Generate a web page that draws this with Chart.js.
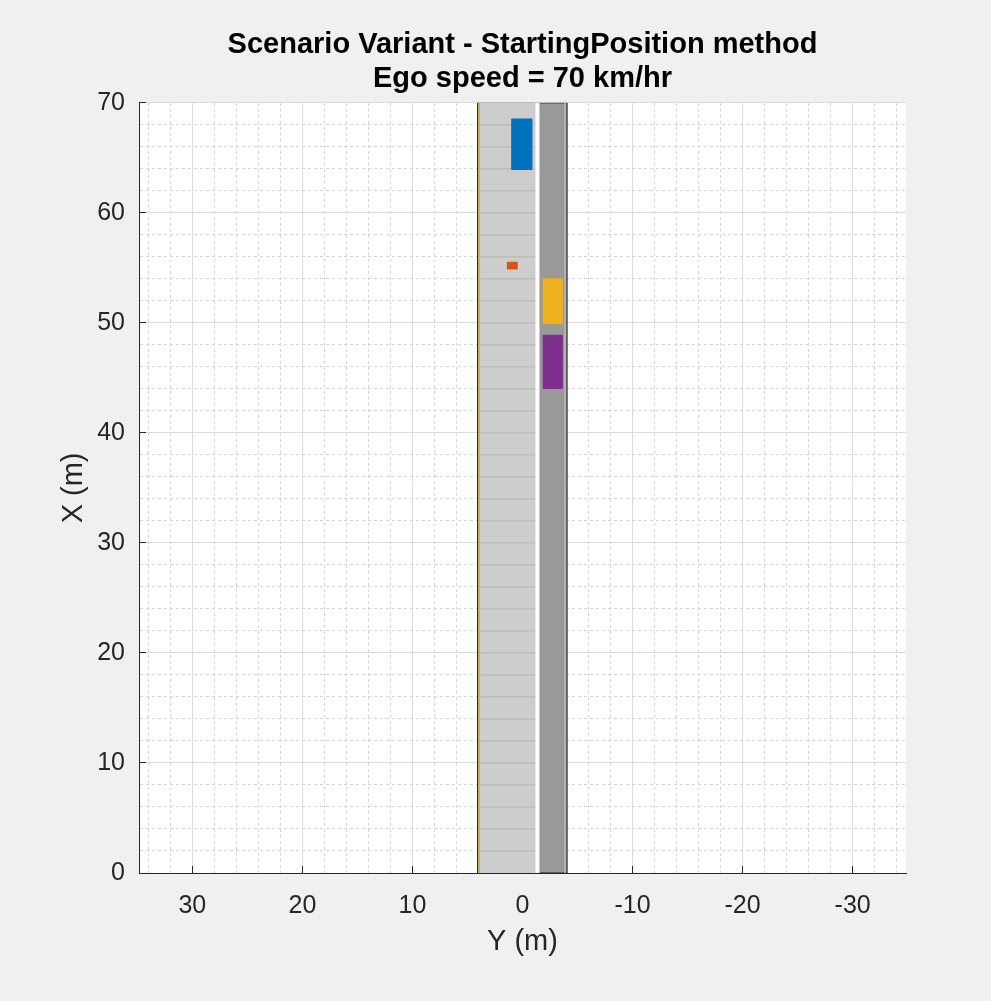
<!DOCTYPE html>
<html>
<head>
<meta charset="utf-8">
<script src="https://cdn.jsdelivr.net/npm/chart.js@4.4.1/dist/chart.umd.min.js"></script>
<style>
  html, body { margin: 0; padding: 0; background: #f0f0f0; }
  canvas { display: block; }
</style>
</head>
<body>
<canvas id="scenario" width="991" height="1001"></canvas>
<script>
// Axis limits and tick labels (metres)
const yLimits = [-34.85, 34.85];   // horizontal axis, "Y (m)", reversed
const xLimits = [0, 70];           // vertical axis, "X (m)"
const yTickLabels = [30, 20, 10, 0, -10, -20, -30];
const xTickLabels = [0, 10, 20, 30, 40, 50, 60, 70];
const minorStep = 2;

// Road geometry (lateral Y positions and longitudinal extent)
const roadEdgeY = [4.05, -4.05];
const roadX = [0, 70];
const lightLaneY = [3.95, -1.36];
const yellowLineY = 3.95;
const whiteLineY = -1.36;
const edgeLineY = -3.86;
const stripeX = [2, 4, 6, 8, 10, 12, 14, 16, 18, 20, 22, 24, 26, 28, 30, 32, 34,
                 36, 38, 40, 42, 44, 46, 48, 50, 52, 54, 56, 58, 60, 62, 64, 66, 68];

// Actors: lateral span (left/right Y) and longitudinal span (rear/front X)
const actorLeftY  = [0.96, 1.35, -1.90, -1.90];
const actorRightY = [-0.84, 0.50, -3.60, -3.60];
const actorRearX  = [63.97, 54.92, 49.95, 44.05];
const actorFrontX = [68.50, 55.50, 54.00, 48.85];
const actorColors = ['#0072BD', '#D95319', '#EDB120', '#7E2F8E'];

function rect(y1, y2, x1, x2) {
  return [
    {x: y1, y: x1}, {x: y2, y: x1}, {x: y2, y: x2}, {x: y1, y: x2}, {x: y1, y: x1}
  ];
}

function vline(y, x1, x2) {
  return [{x: y, y: x1}, {x: y, y: x2}];
}

const datasets = [];

// vehicles on top
actorColors.forEach((c, i) => {
  datasets.push({
    data: rect(actorLeftY[i], actorRightY[i], actorRearX[i], actorFrontX[i]),
    showLine: true,
    fill: 'shape',
    backgroundColor: c,
    borderColor: c,
    borderWidth: 1.5,
    borderJoinStyle: 'round',
    pointRadius: 0,
    order: 1
  });
});

// lane markings
datasets.push({
  data: vline(whiteLineY, roadX[0], roadX[1]),
  showLine: true, borderColor: '#ffffff', borderWidth: 4, pointRadius: 0, order: 2
});
datasets.push({
  data: vline(yellowLineY, roadX[0], roadX[1]),
  showLine: true, borderColor: '#c9b262', borderWidth: 2, pointRadius: 0, order: 2
});
datasets.push({
  data: vline(edgeLineY, roadX[0], roadX[1]),
  showLine: true, borderColor: '#b9b9b9', borderWidth: 1.5, pointRadius: 0, order: 2
});

// cross stripes in the light lane
const stripes = [];
stripeX.forEach(x => {
  stripes.push({x: lightLaneY[0], y: x}, {x: lightLaneY[1] + 0.2, y: x}, {x: NaN, y: NaN});
});
datasets.push({
  data: stripes,
  showLine: true, spanGaps: false, borderColor: '#b3b3b3', borderWidth: 1, pointRadius: 0, order: 3
});

// light lane
datasets.push({
  data: rect(lightLaneY[0], lightLaneY[1], roadX[0], roadX[1]),
  showLine: true, fill: 'shape', backgroundColor: '#cdcdcd', borderWidth: 0, pointRadius: 0, order: 4
});

// road surface with outline
datasets.push({
  data: rect(roadEdgeY[0], roadEdgeY[1], roadX[0], roadX[1]),
  showLine: true, fill: 'shape', backgroundColor: '#999999', borderColor: '#1a1a1a',
  borderWidth: 1, pointRadius: 0, order: 5
});

function isMajor(v) {
  return Math.abs(v % 10) < 1e-6;
}

function gridStyle() {
  return {
    drawTicks: true,
    tickLength: -7,
    lineWidth: 1,
    color: ctx => (ctx.tick && isMajor(ctx.tick.value)) ? '#dcdcdc' : '#d4d4d4',
    tickColor: ctx => (ctx.tick && isMajor(ctx.tick.value)) ? '#262626' : 'rgba(0,0,0,0)'
  };
}

function borderStyle() {
  return {
    display: true,
    color: '#262626',
    width: 1,
    dash: ctx => (ctx.tick && !isMajor(ctx.tick.value)) ? [3, 3] : []
  };
}

function minorTicks(lo, hi) {
  const out = [];
  const start = Math.ceil(lo / minorStep) * minorStep;
  for (let v = start; v <= hi + 1e-9; v += minorStep) out.push({value: v});
  return out;
}

// paints the white plotting area
const plotBackground = {
  id: 'plotBackground',
  beforeDraw(chart) {
    const {ctx, chartArea} = chart;
    ctx.save();
    ctx.fillStyle = '#f0f0f0';
    ctx.fillRect(0, 0, chart.width, chart.height);
    ctx.fillStyle = '#ffffff';
    ctx.fillRect(chartArea.left, chartArea.top, chartArea.right - chartArea.left, chartArea.bottom - chartArea.top);
    ctx.restore();
  }
};

const fontFamily = "'Liberation Sans', Arial, Helvetica, sans-serif";

new Chart(document.getElementById('scenario'), {
  type: 'scatter',
  data: { datasets: datasets },
  plugins: [plotBackground],
  options: {
    responsive: false,
    animation: false,
    events: [],
    layout: { padding: { left: 0, right: 85, top: 0, bottom: 0 } },
    plugins: {
      legend: { display: false },
      tooltip: { enabled: false },
      title: {
        display: true,
        fullSize: false,
        text: ['Scenario Variant - StartingPosition method', 'Ego speed = 70 km/hr'],
        color: '#000000',
        font: { family: fontFamily, size: 29, weight: 'bold', lineHeight: 1.17 },
        padding: { top: 28, bottom: 7 }
      }
    },
    scales: {
      x: {
        type: 'linear',
        position: 'bottom',
        reverse: true,
        min: yLimits[0],
        max: yLimits[1],
        afterBuildTicks: axis => { axis.ticks = minorTicks(yLimits[0], yLimits[1]); },
        afterFit: axis => { axis.height = 128; },
        grid: gridStyle(),
        border: borderStyle(),
        ticks: {
          autoSkip: false,
          maxRotation: 0,
          padding: 25,
          color: '#262626',
          font: { family: fontFamily, size: 25 },
          callback: v => yTickLabels.includes(v) ? String(v) : ''
        },
        title: {
          display: true,
          text: 'Y (m)',
          color: '#262626',
          font: { family: fontFamily, size: 29 },
          padding: { top: 0, bottom: 42 }
        }
      },
      y: {
        type: 'linear',
        position: 'left',
        min: xLimits[0],
        max: xLimits[1],
        afterBuildTicks: axis => { axis.ticks = minorTicks(xLimits[0], xLimits[1]); },
        afterFit: axis => { axis.width = 139; },
        grid: gridStyle(),
        border: borderStyle(),
        ticks: {
          autoSkip: false,
          padding: 21,
          color: '#262626',
          font: { family: fontFamily, size: 25 },
          callback: v => xTickLabels.includes(v) ? String(v) : ''
        },
        title: {
          display: true,
          text: 'X (m)',
          color: '#262626',
          font: { family: fontFamily, size: 29 },
          padding: { top: 57, bottom: 0 }
        }
      }
    }
  }
});
</script>
</body>
</html>
